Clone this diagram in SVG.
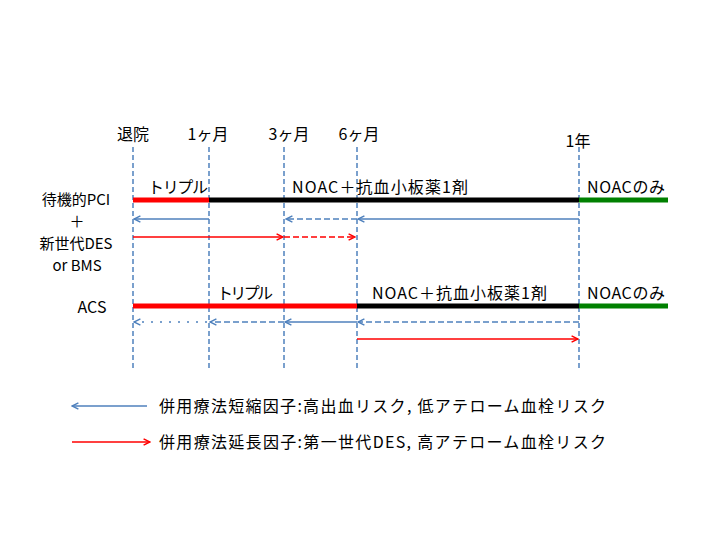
<svg xmlns="http://www.w3.org/2000/svg" width="720" height="540" viewBox="0 0 720 540">
<style>
text{font-family:"Noto Sans CJK JP","Noto Sans",sans-serif;font-size:16px;fill:#000}
.c{text-anchor:middle}
.side{font-size:15px}
.grid{stroke:#4F81BD;stroke-width:1.5;stroke-dasharray:5,3;fill:none}
.bar{stroke-width:5;fill:none}
.b{stroke:#4F81BD;stroke-width:1.6;fill:none;marker-end:url(#ab)}
.r{stroke:#FF0000;stroke-width:1.6;fill:none;marker-end:url(#ar)}
.dash{stroke-dasharray:6,3}
.dot{stroke-dasharray:2,7}
</style>
<defs>
<marker id="ab" viewBox="0 0 10 10" refX="9" refY="5" markerWidth="8" markerHeight="8" markerUnits="userSpaceOnUse" orient="auto">
<path d="M1,1 L9,5 L1,9" fill="none" stroke="#4F81BD" stroke-width="1.8"/>
</marker>
<marker id="ar" viewBox="0 0 10 10" refX="9" refY="5" markerWidth="8" markerHeight="8" markerUnits="userSpaceOnUse" orient="auto">
<path d="M1,1 L9,5 L1,9" fill="none" stroke="#FF0000" stroke-width="1.8"/>
</marker>
</defs>
<rect width="720" height="540" fill="#fff"/>

<g id="time-labels">
<text class="c" x="133" y="140">退院</text>
<text class="c" x="208" y="140">1ヶ月</text>
<text class="c" x="289" y="140">3ヶ月</text>
<text class="c" x="359" y="140">6ヶ月</text>
<text class="c" x="578" y="147">1年</text>
</g>

<g id="gridlines">
<line class="grid" x1="133" y1="147" x2="133" y2="369"/>
<line class="grid" x1="209" y1="147" x2="209" y2="369"/>
<line class="grid" x1="284" y1="147" x2="284" y2="369"/>
<line class="grid" x1="357" y1="147" x2="357" y2="369"/>
<line class="grid" x1="579" y1="147" x2="579" y2="369"/>
</g>

<g id="row-pci">
<text class="c side" x="76" y="204.5">待機的PCI</text>
<text class="c side" x="77" y="226.8">＋</text>
<text class="c side" x="76" y="249">新世代DES</text>
<text class="c side" x="77" y="271">or BMS</text>
<line class="bar" x1="133" y1="200" x2="209" y2="200" stroke="#FF0000"/>
<line class="bar" x1="209" y1="200" x2="579" y2="200" stroke="#000"/>
<line class="bar" x1="579" y1="200" x2="668" y2="200" stroke="#008000"/>
<text x="148" y="193" textLength="60" lengthAdjust="spacing">トリプル</text>
<text x="292" y="193" textLength="176" lengthAdjust="spacing">NOAC＋抗血小板薬1剤</text>
<text x="587" y="193" textLength="78" lengthAdjust="spacing">NOACのみ</text>
</g>

<g id="row-acs">
<text class="c" x="92" y="313">ACS</text>
<line class="bar" x1="133" y1="306" x2="357" y2="306" stroke="#FF0000"/>
<line class="bar" x1="357" y1="306" x2="579" y2="306" stroke="#000"/>
<line class="bar" x1="579" y1="306" x2="668" y2="306" stroke="#008000"/>
<text x="217" y="299" textLength="56" lengthAdjust="spacing">トリプル</text>
<text x="372" y="299" textLength="175" lengthAdjust="spacing">NOAC＋抗血小板薬1剤</text>
<text x="587" y="299" textLength="78" lengthAdjust="spacing">NOACのみ</text>
</g>

<g id="connectors">
<line class="b" x1="209" y1="219" x2="134" y2="219"/>
<line class="b dash" x1="357" y1="219" x2="286" y2="219"/>
<line class="b" x1="579" y1="219" x2="358" y2="219"/>
<line class="r" x1="133" y1="237" x2="283" y2="237"/>
<line class="r dash" x1="284" y1="237" x2="355" y2="237"/>
<line class="b dot" x1="207" y1="322" x2="134" y2="322"/>
<line class="b dash" x1="284" y1="322" x2="210" y2="322"/>
<line class="b" x1="357" y1="322" x2="285" y2="322"/>
<line class="b dash" x1="579" y1="322" x2="358" y2="322"/>
<line class="r" x1="357" y1="339" x2="578" y2="339"/>
</g>

<g id="legend">
<line class="b" x1="147" y1="406" x2="72" y2="406"/>
<text x="159" y="412" textLength="447" lengthAdjust="spacing">併用療法短縮因子:高出血リスク, 低アテローム血栓リスク</text>
<line class="r" x1="72" y1="442" x2="150" y2="442"/>
<text x="159" y="448" textLength="447" lengthAdjust="spacing">併用療法延長因子:第一世代DES, 高アテローム血栓リスク</text>
</g>
</svg>
